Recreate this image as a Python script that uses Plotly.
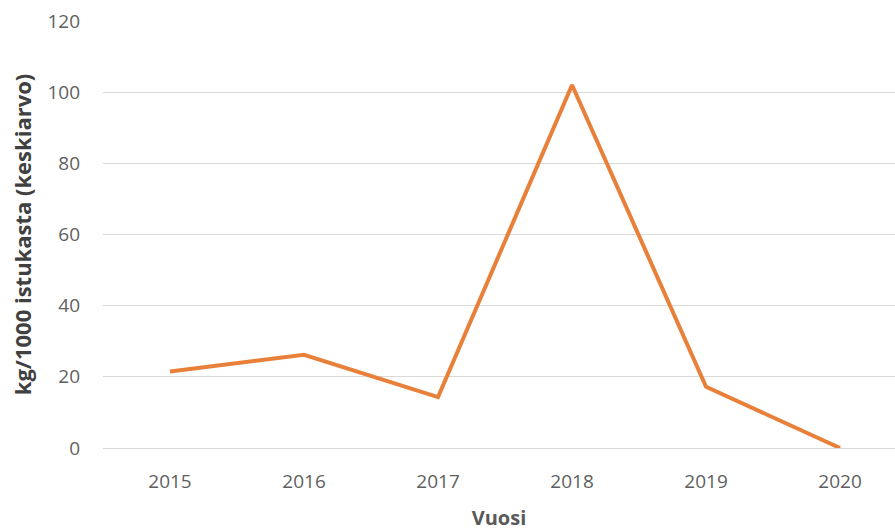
import plotly.graph_objects as go

years = ["2015", "2016", "2017", "2018", "2019", "2020"]
values = [21.5, 26.2, 14.3, 102.0, 17.2, 0.0]
y_ticks = [0, 20, 40, 60, 80, 100, 120]

fig = go.Figure(
    go.Scatter(
        x=years,
        y=values,
        mode="lines",
        line=dict(color="#E8803A", width=4),
        hoverinfo="x+y",
    )
)

fig.update_layout(
    width=895,
    height=531,
    paper_bgcolor="white",
    plot_bgcolor="white",
    margin=dict(l=103, r=0, t=21, b=83),
    showlegend=False,
    font=dict(family="Open Sans, sans-serif", color="#595959"),
)

fig.update_xaxes(
    type="category",
    range=[-0.5, 5.41],
    showgrid=False,
    showline=False,
    zeroline=False,
    ticks="",
    ticklabelstandoff=20,
    tickfont=dict(size=19, color="#5f5f5f"),
    title=dict(
        text="<b>Vuosi</b>",
        font=dict(size=20, color="#595959"),
        standoff=17,
    ),
)

fig.update_yaxes(
    range=[0, 120],
    tickvals=y_ticks,
    showgrid=True,
    gridcolor="#D9D9D9",
    gridwidth=1,
    zeroline=True,
    zerolinecolor="#D9D9D9",
    zerolinewidth=1,
    showline=False,
    ticks="",
    ticklabelstandoff=22,
    tickfont=dict(size=19, color="#5f5f5f"),
    title=dict(
        text="<b>kg/1000 istukasta (keskiarvo)</b>",
        font=dict(size=22, color="#404040"),
        standoff=9,
    ),
)

fig.write_html("out.html")
